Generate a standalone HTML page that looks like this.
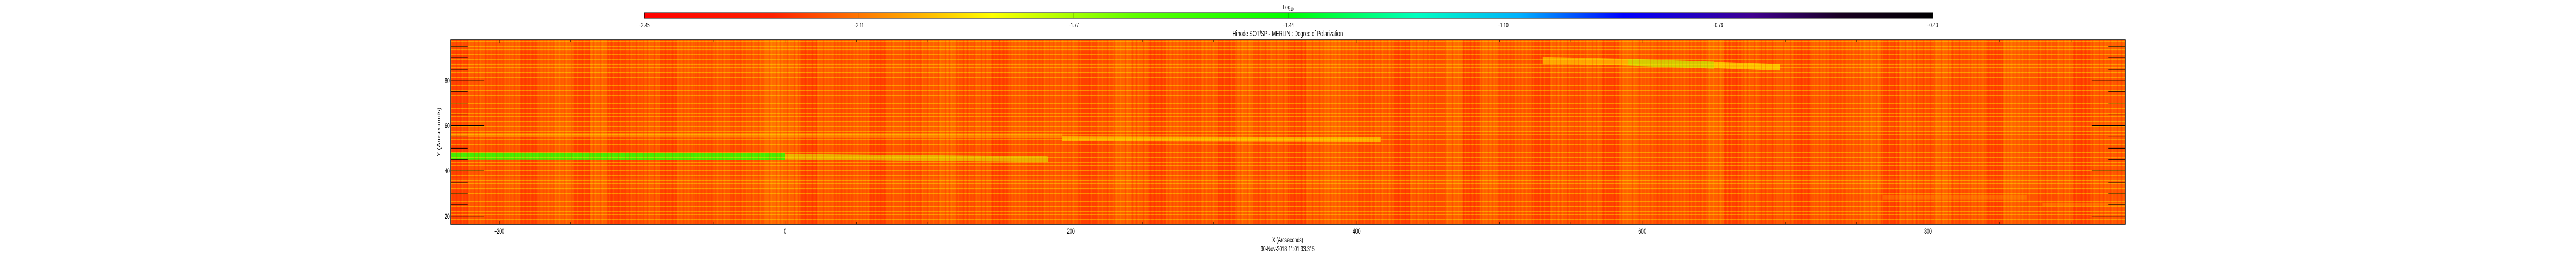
<!DOCTYPE html>
<html><head><meta charset="utf-8">
<title>Hinode SOT/SP - MERLIN : Degree of Polarization</title>
<style>
html,body{margin:0;padding:0;background:#fff;overflow:hidden;width:100%;height:100%;}
svg{display:block;position:absolute;left:0;top:0;width:100vw;height:100vh;}
text{font-family:"Liberation Sans",sans-serif;fill:#000;}
</style></head>
<body>
<svg id="chart" viewBox="0 0 7882 512" preserveAspectRatio="none" xmlns="http://www.w3.org/2000/svg">
<defs>
<linearGradient id="cbgrad" x1="0" x2="1" y1="0" y2="0">
<stop offset="0" stop-color="#ff0000"/>
<stop offset="0.1" stop-color="#ff2000"/>
<stop offset="0.2" stop-color="#ffa000"/>
<stop offset="0.27" stop-color="#ffff00"/>
<stop offset="0.38" stop-color="#60ff00"/>
<stop offset="0.5" stop-color="#00ff00"/>
<stop offset="0.6" stop-color="#00ffc0"/>
<stop offset="0.68" stop-color="#00b0ff"/>
<stop offset="0.76" stop-color="#0000ff"/>
<stop offset="0.86" stop-color="#400090"/>
<stop offset="0.93" stop-color="#180020"/>
<stop offset="1" stop-color="#000000"/>
</linearGradient>
<pattern id="scan" width="8" height="5" patternUnits="userSpaceOnUse">
<rect x="0" y="0" width="8" height="1" fill="#ffe000" opacity="0.5"/>
</pattern>
<pattern id="vscan" width="11" height="8" patternUnits="userSpaceOnUse">
<rect x="0" y="0" width="1" height="8" fill="#ff1000" opacity="0.35"/>
<rect x="6" y="0" width="1" height="8" fill="#ffd000" opacity="0.25"/>
</pattern>
</defs>
<g id="heat"></g>
<g id="bands"></g>
<rect x="1379" y="77" width="5124" height="358" fill="url(#scan)"/>
<rect x="1379" y="77" width="5124" height="358" fill="url(#vscan)"/>
<g id="axes"></g>
<g id="cbar"></g>
<text x="3940" y="70" font-size="15" text-anchor="middle">Hinode SOT/SP - MERLIN : Degree of Polarization</text>
<text x="3940" y="470" font-size="14" text-anchor="middle">X (Arcseconds)</text>
<text x="3940" y="487" font-size="14" text-anchor="middle">30-Nov-2018 11:01:33.315</text>
<text x="1348" y="256" font-size="14" text-anchor="middle" transform="rotate(-90 1348 256)">Y (Arcseconds)</text>
</svg>
<script>
// ---- data ----
const xRange = [-234, 938];
const yRange = [16.3, 98];
const cbRange = [-2.45, -0.43];
const cbTickLabels = ["-2.45", "-2.11", "-1.77", "-1.44", "-1.10", "-0.76", "-0.43"];
const xTickLabels = [-200, 0, 200, 400, 600, 800];
const xMinorStep = 50;
const yTickLabels = [20, 40, 60, 80];
const yMinorStep = 5;
// column brightness (digit per column, 96 columns spanning x range)
const colLevels = "354535636345354545763545354564535455346535453645356545354636453545365454635453545635464536545355";
// row brightness offsets (16 rows, top to bottom)
const rowLevels = "1010000100001000";
const baseValue = -2.25;
const levelStep = 0.017;
// band features: x start, x end, y start, y end, value, thickness (arcsec)
const bandX0 = [-234, 0, -234, 194, 530, 590, 650, 768, 880];
const bandX1 = [0, 184, 194, 417, 590, 650, 696, 869, 938];
const bandY0 = [46.5, 46.2, 55.9, 54.2, 88.8, 88.0, 86.8, 28.2, 25.0];
const bandY1 = [46.4, 45.1, 55.6, 53.9, 88.0, 86.8, 85.8, 28.2, 25.0];
const bandV = [-1.55, -1.85, -2.0, -1.9, -1.95, -1.82, -1.9, -2.05, -2.05];
const bandH = [3.2, 2.6, 2.0, 2.2, 3.0, 3.0, 2.6, 1.8, 1.6];
const bandAlpha = [0.9, 0.55, 0.45, 0.55, 0.6, 0.7, 0.6, 0.4, 0.4];

// ---- scales ----
const PX0 = 1379, PX1 = 6503, PY0 = 77, PY1 = 435;
function sx(v){ return PX0 + (v - xRange[0]) / (xRange[1] - xRange[0]) * (PX1 - PX0); }
function sy(v){ return PY1 - (v - yRange[0]) / (yRange[1] - yRange[0]) * (PY1 - PY0); }
const stops = [[0,[255,0,0]],[0.1,[255,32,0]],[0.2,[255,160,0]],[0.27,[255,255,0]],[0.38,[96,255,0]],[0.5,[0,255,0]],[0.6,[0,255,192]],[0.68,[0,176,255]],[0.76,[0,0,255]],[0.86,[64,0,144]],[0.93,[24,0,32]],[1,[0,0,0]]];
function cmap(v){
  let f = (v - cbRange[0]) / (cbRange[1] - cbRange[0]);
  f = Math.max(0, Math.min(1, f));
  for (let i = 1; i < stops.length; i++) {
    if (f <= stops[i][0]) {
      const a = stops[i-1], b = stops[i];
      const t = (f - a[0]) / (b[0] - a[0]);
      const c = a[1].map((q, k) => Math.round(q + (b[1][k] - q) * t));
      return "rgb(" + c.join(",") + ")";
    }
  }
  return "rgb(0,0,0)";
}
const NS = "http://www.w3.org/2000/svg";
function mk(tag, attrs, parent){
  const e = document.createElementNS(NS, tag);
  for (const k in attrs) e.setAttribute(k, attrs[k]);
  parent.appendChild(e);
  return e;
}

// ---- heatmap cells ----
const heat = document.getElementById("heat");
const nc = colLevels.length, nr = rowLevels.length;
const dx = (xRange[1] - xRange[0]) / nc, dy = (yRange[1] - yRange[0]) / nr;
for (let r = 0; r < nr; r++) {
  for (let c = 0; c < nc; c++) {
    const v = baseValue + (parseInt(colLevels[c]) + parseInt(rowLevels[r])) * levelStep;
    const x0 = sx(xRange[0] + c * dx), x1 = sx(xRange[0] + (c + 1) * dx);
    const yTop = sy(yRange[1] - r * dy), yBot = sy(yRange[1] - (r + 1) * dy);
    const e = mk("rect", {x: x0, y: yTop, width: x1 - x0 + 0.5, height: yBot - yTop + 0.5, fill: cmap(v)}, heat);
    
    
  }
}
// ---- bands ----
const bands = document.getElementById("bands");
for (let i = 0; i < bandV.length; i++) {
  const x0 = sx(bandX0[i]), x1 = sx(bandX1[i]);
  const h = bandH[i] * (PY1 - PY0) / (yRange[1] - yRange[0]);
  const yA = sy(bandY0[i]), yB = sy(bandY1[i]);
  const pts = [[x0, yA - h/2], [x1, yB - h/2], [x1, yB + h/2], [x0, yA + h/2]].map(p => p.join(",")).join(" ");
  const e = mk("polygon", {points: pts, fill: cmap(bandV[i]), opacity: bandAlpha[i]}, bands);
  
  
}

// ---- axes ----
const axes = document.getElementById("axes");
const frame = mk("rect", {x: PX0, y: PY0, width: PX1 - PX0, height: PY1 - PY0, fill: "none", stroke: "#000", "stroke-width": 1.5}, axes);


for (let v = Math.ceil(xRange[0] / xMinorStep) * xMinorStep; v <= xRange[1]; v += xMinorStep) {
  const X = sx(v);
  const major = xTickLabels.indexOf(v) >= 0;
  const L = major ? 7 : 4;
  const t1 = mk("line", {x1: X, x2: X, y1: PY1, y2: PY1 - L, stroke: "#000", "stroke-width": 1}, axes);
  
  
  const t2 = mk("line", {x1: X, x2: X, y1: PY0, y2: PY0 + L, stroke: "#000", "stroke-width": 1}, axes);
  
  
}
xTickLabels.forEach(v => {
  const t = mk("text", {x: sx(v), y: 453, "font-size": 14, "text-anchor": "middle"}, axes);
  t.textContent = v === 0 ? "0" : String(v).replace("-", "\u2212");
  
  
});
for (let v = Math.ceil(yRange[0] / yMinorStep) * yMinorStep; v <= yRange[1]; v += yMinorStep) {
  const Y = sy(v);
  const major = yTickLabels.indexOf(v) >= 0;
  const L = major ? 103 : 52;
  const a = mk("line", {x1: PX0, x2: PX0 + L, y1: Y, y2: Y, stroke: "#000", "stroke-width": 1}, axes);
  
  
  const b = mk("line", {x1: PX1, x2: PX1 - L, y1: Y, y2: Y, stroke: "#000", "stroke-width": 1}, axes);
  
  
}
yTickLabels.forEach(v => {
  const t = mk("text", {x: PX0 - 3, y: sy(v) + 5, "font-size": 14, "text-anchor": "end"}, axes);
  t.textContent = String(v);
  
  
});

// ---- colorbar ----
const cb = document.getElementById("cbar");
const CB0 = 1971, CB1 = 5913, CBY = 25, CBH = 10;
const bar = mk("rect", {x: CB0, y: CBY, width: CB1 - CB0, height: CBH, fill: "url(#cbgrad)", stroke: "#000", "stroke-width": 1}, cb);


cbTickLabels.forEach((lab, i) => {
  const X = CB0 + i / (cbTickLabels.length - 1) * (CB1 - CB0);
  const tk = mk("line", {x1: X, x2: X, y1: CBY, y2: CBY + CBH, stroke: "#000", "stroke-width": 0.6, opacity: 0.5}, cb);
  
  
  const t = mk("text", {x: X, y: 53, "font-size": 13, "text-anchor": "middle"}, cb);
  t.textContent = lab.replace("-", "\u2212");
  
  
});
const lg = mk("text", {x: (CB0 + CB1) / 2, y: 18, "font-size": 13, "text-anchor": "middle"}, cb);


lg.textContent = "Log";
const sub = document.createElementNS(NS, "tspan");
sub.setAttribute("font-size", "9");
sub.setAttribute("dy", "3");
sub.textContent = "10";
lg.appendChild(sub);
</script>
</body></html>
